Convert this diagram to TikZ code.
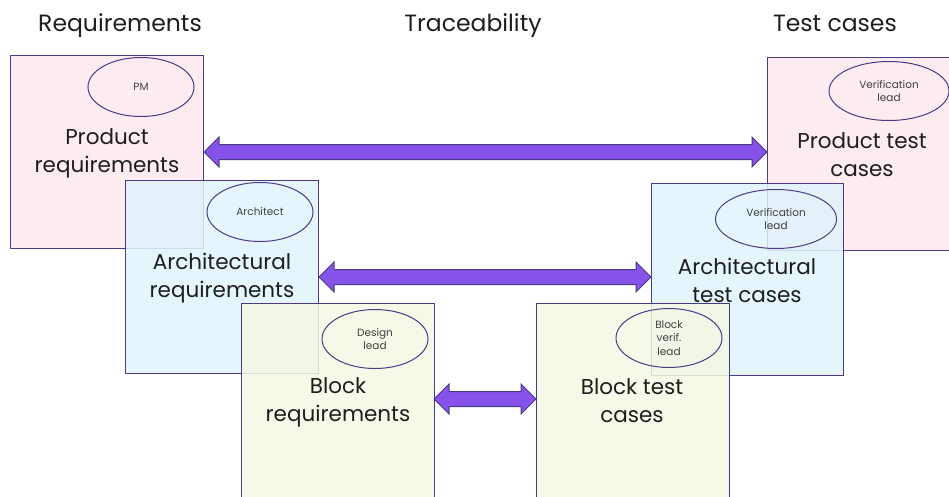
\documentclass[tikz,border=0pt]{standalone}
\usepackage{fontspec}
\setmainfont{Poppins}
\usetikzlibrary{calc,shapes.geometric}
\definecolor{edge}{HTML}{4B3B86}
\definecolor{pinkfill}{HTML}{FCE8EC}
\definecolor{bluefill}{HTML}{E0F3FC}
\definecolor{greenfill}{HTML}{F2F9E3}
\definecolor{arrowfill}{HTML}{8553EA}
\definecolor{ink}{HTML}{1E1E1E}
\tikzset{
  stage/.style={draw=edge, line width=1pt, fill opacity=0.85, anchor=north west,
    minimum width=193pt, minimum height=193pt, inner sep=0pt},
  role/.style={draw=edge, line width=1pt, ellipse, minimum width=106pt, minimum height=59pt,
    inner sep=0pt, font=\fontsize{10.5}{13.5}\selectfont, text=ink!85, align=center},
  caption/.style={font=\fontsize{21.5}{28}\selectfont, text=ink, align=center},
  heading/.style={font=\fontsize{23.5}{28}\selectfont, text=ink, anchor=base},
  trace/.style={draw=edge, line width=1pt, fill=arrowfill, line join=miter},
}
\newcommand{\tracearrow}[2]{%
  \path[trace] let \p1=(#1.east), \p2=(#2.west) in
    (\x1,\y1) -- ({\x1+15pt},{\y1+15pt}) -- ({\x1+15pt},{\y1+7.5pt})
    -- ({\x2-15pt},{\y1+7.5pt}) -- ({\x2-15pt},{\y1+15pt}) -- (\x2,\y1)
    -- ({\x2-15pt},{\y1-15pt}) -- ({\x2-15pt},{\y1-7.5pt})
    -- ({\x1+15pt},{\y1-7.5pt}) -- ({\x1+15pt},{\y1-15pt}) -- cycle;}
\begin{document}
\begin{tikzpicture}[x=1pt, y=-1pt]
\useasboundingbox (0,0) rectangle (949,496);

% column headings, sharing one baseline
\node[heading] (hreq) at (120,31) {Requirements};
\node[heading] (htrace) at (473,31) {Traceability};
\node[heading] (htest) at (835,31) {Test cases};

% requirement side
\node[stage, fill=pinkfill] (preq) at (10,55) {};
\node[role] (pm) at (141,87) {PM};
\node[caption] at (107,153) {Product\\requirements};

\node[stage, fill=bluefill] (areq) at (125,180) {};
\node[role] (arch) at (260,212) {Architect};
\node[caption] at (222,278) {Architectural\\requirements};

\node[stage, fill=greenfill, minimum height=210pt] (breq) at (241,303) {};
\node[role] (dlead) at (375,339) {Design\\lead};
\node[caption] at (338,402) {Block\\requirements};

% test side
\node[stage, fill=pinkfill, minimum width=200pt] (ptest) at (767,57) {};
\node[role, minimum width=120pt] (vlead1) at (889,91) {Verification\\lead};
\node[caption] at (862,155) {Product test\\cases};

\node[stage, fill=bluefill, minimum width=192pt, minimum height=192pt] (atest) at (651,183) {};
\node[role, minimum width=121pt] (vlead2) at (776,219) {Verification\\lead};
\node[caption] at (747,280) {Architectural\\test cases};

\node[stage, fill=greenfill, minimum height=210pt] (btest) at (536,303) {};
\node[role] (bvlead) at (669,338) {Block\\verif.\\lead};
\node[caption] at (632,401) {Block test\\cases};

% traceability links, drawn at the height of the requirement boxes' centres
\coordinate (breqmid) at (434,399);
\coordinate (btestmid) at (536,399);
\tracearrow{preq}{ptest}
\tracearrow{areq}{atest}
\path[trace] (breqmid) -- ++(15,-15) -- ++(0,7.5) -- ($(btestmid)+(-15,-7.5)$) -- ++(0,-7.5)
  -- (btestmid) -- ++(-15,15) -- ++(0,-7.5) -- ($(breqmid)+(15,7.5)$) -- ++(0,7.5) -- cycle;
\end{tikzpicture}
\end{document}
